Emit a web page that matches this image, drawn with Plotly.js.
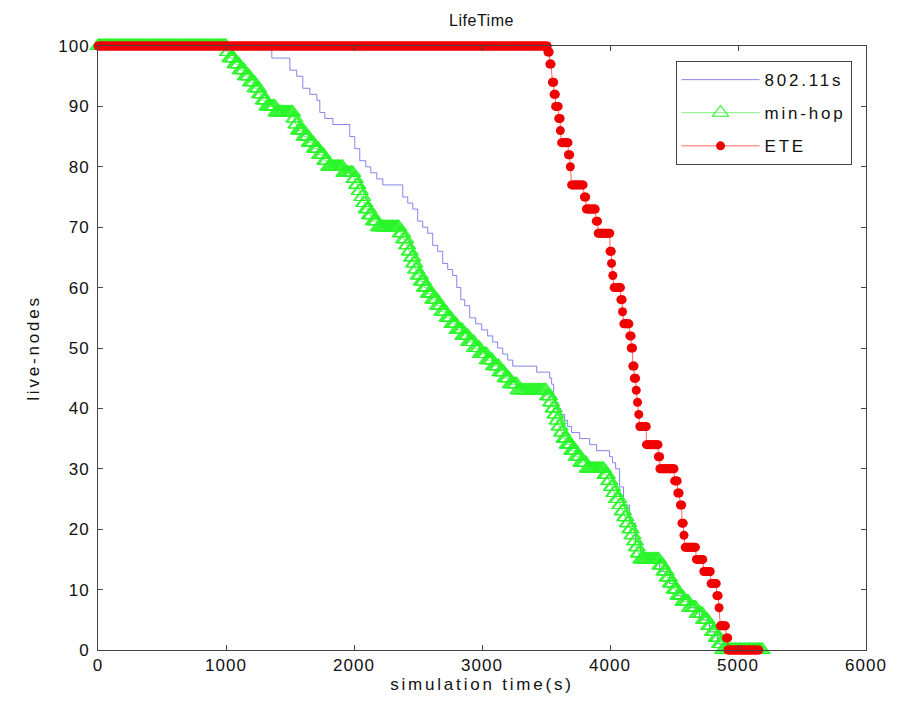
<!DOCTYPE html>
<html><head><meta charset="utf-8">
<script src="https://cdn.plot.ly/plotly-3.0.1.min.js"></script>
<style>
html,body{margin:0;padding:0;background:#fff}#chart{width:900px;height:712px}
.g-xtitle text,.g-ytitle text,.legend text.legendtext{letter-spacing:2.8px}
.xtick text,.ytick text{letter-spacing:1px}
.g-gtitle text{letter-spacing:0.5px}
</style>
</head><body><div id="chart"></div>
<script>
// Live-node counts as step data: time (s) at which each count begins
const blueTimes = [0,1358,1499,1553,1600,1655,1710,1733,1772,1835,1967,2006,2045,2092,2131,2178,2225,2381,2420,2459,2498,2537,2576,2615,2654,2693,2732,2771,2803,2834,2865,2904,2951,2998,3044,3084,3122,3162,3201,3240,3427,3529,3544,3560,3575,3591,3614,3646,3669,3700,3763,3841,3895,3997,4020,4044,4075,4106,4153,4200,4239,4309,4387,4465,4528,4622,4700,4778,4840,4895];
const blueNodes = [100,98,96,95,93,92,91,89,88,87,85,83,81,80,79,78,77,75,74,73,71,70,69,67,66,64,63,62,60,58,57,55,54,53,52,51,50,49,48,47,46,45,44,42,41,40,39,38,37,36,35,34,33,32,31,30,27,24,21,18,16,15,13,11,9,7,5,3,1,0];
const blueEnd = 5180;

const greenTimes = [0,1010,1030,1070,1110,1150,1190,1225,1260,1290,1320,1390,1530,1545,1565,1610,1650,1690,1730,1770,1800,1920,2000,2020,2040,2060,2075,2095,2120,2150,2190,2360,2385,2410,2430,2450,2465,2480,2500,2525,2550,2580,2615,2650,2685,2725,2765,2805,2850,2895,2940,2985,3040,3090,3140,3180,3220,3280,3510,3535,3555,3570,3585,3600,3620,3640,3665,3700,3735,3770,3820,3960,3990,4010,4030,4050,4075,4095,4115,4135,4155,4170,4190,4205,4220,4240,4390,4420,4445,4470,4500,4530,4570,4620,4680,4730,4770,4800,4830,4855,4880];
const greenNodes = [100,99,98,97,96,95,94,93,92,91,90,89,88,87,86,85,84,83,82,81,80,79,78,77,76,75,74,73,72,71,70,69,68,67,66,65,64,63,62,61,60,59,58,57,56,55,54,53,52,51,50,49,48,47,46,45,44,43,42,41,40,39,38,37,36,35,34,33,32,31,30,29,28,27,26,25,24,23,22,21,20,19,18,17,16,15,14,13,12,11,10,9,8,7,6,5,4,3,2,1,0];
const greenEnd = 5190;

const eteTimes = [0,3515,3530,3550,3563,3575,3600,3612,3622,3675,3690,3700,3800,3815,3893,3908,4000,4012,4022,4032,4085,4098,4108,4155,4166,4178,4190,4205,4215,4225,4233,4285,4378,4390,4505,4530,4550,4562,4578,4588,4675,4733,4790,4835,4852,4862,4910,4922];
const eteNodes = [100,99,97,94,92,90,88,86,84,82,80,77,75,73,71,69,66,64,62,60,58,56,54,52,50,47,45,43,41,39,37,34,32,30,28,26,24,21,19,17,15,13,11,9,7,4,2,0];
const eteEnd = 5165;

const seriesNames = ['802.11s', 'min-hop', 'ETE'];

const LOG_PERIOD = 10; // s between logged samples

// hold each count from its start time until the next change, one sample per logging period
function heldSamples(times, nodes, end) {
  const xs = [], ys = [];
  for (let i = 0; i < times.length; i++) {
    const t1 = i + 1 < times.length ? times[i + 1] : end + 0.001;
    for (let t = times[i]; t < t1; t += LOG_PERIOD) { xs.push(t); ys.push(nodes[i]); }
  }
  return {xs, ys};
}

const g = heldSamples(greenTimes, greenNodes, greenEnd);
const r = heldSamples(eteTimes, eteNodes, eteEnd);
// trailing no-break spaces reserve room for the letter-spaced legend text
const pad = '\u00a0\u00a0\u00a0\u00a0';

const traces = [
  {x: blueTimes.concat([blueEnd]), y: blueNodes.concat([0]), name: seriesNames[0] + pad, mode: 'lines',
   line: {color: 'rgb(80,80,230)', width: 0.7, shape: 'hv'}, legendgroup: 'a', cliponaxis: false},
  {x: g.xs, y: g.ys, name: seriesNames[1] + pad, mode: 'lines+markers',
   line: {color: 'rgb(40,230,40)', width: 0.6},
   marker: {symbol: 'triangle-up-open', size: 14, color: 'rgb(40,245,40)', line: {width: 1.1, color: 'rgb(40,245,40)'}},
   legendgroup: 'b', cliponaxis: false},
  {x: r.xs, y: r.ys, name: seriesNames[2], mode: 'lines+markers',
   line: {color: 'rgb(255,0,0)', width: 0.6},
   marker: {symbol: 'circle', size: 9, color: 'rgb(240,0,0)'},
   legendgroup: 'c', cliponaxis: false}
];

const font = {family: '"Liberation Sans", Arial, sans-serif', color: '#111'};
const layout = {
  width: 900, height: 712,
  margin: {l: 98, r: 34, t: 46, b: 62},
  paper_bgcolor: '#fff', plot_bgcolor: '#fff',
  font: Object.assign({size: 17}, font),
  title: {text: 'LifeTime', font: Object.assign({size: 16}, font), x: 0.535, xanchor: 'center', yref: 'container', y: 0.972, yanchor: 'middle'},
  xaxis: {range: [0, 6000], dtick: 1000, tick0: 0, ticks: 'inside', ticklen: 5, tickcolor: '#444',
          showline: true, linecolor: '#444', linewidth: 1, mirror: 'ticks', showgrid: false, zeroline: false,
          tickfont: Object.assign({size: 17}, font),
          title: {text: 'simulation time(s)', font: Object.assign({size: 17}, font), standoff: 0}},
  yaxis: {range: [0, 100], dtick: 10, tick0: 0, ticks: 'inside', ticklen: 5, tickcolor: '#444',
          showline: true, linecolor: '#444', linewidth: 1, mirror: 'ticks', showgrid: false, zeroline: false,
          tickfont: Object.assign({size: 17}, font), ticklabelstandoff: 4,
          title: {text: 'live-nodes', font: Object.assign({size: 17}, font), standoff: 14}},
  showlegend: true,
  legend: {x: 0.752, y: 0.975, xanchor: 'left', yanchor: 'top', bgcolor: '#fff', bordercolor: '#444', borderwidth: 1,
           font: Object.assign({size: 17}, font), traceorder: 'grouped', tracegroupgap: 8, itemwidth: 78}
};

Plotly.newPlot('chart', traces, layout, {displayModeBar: false, staticPlot: true});
</script>
</body></html>
